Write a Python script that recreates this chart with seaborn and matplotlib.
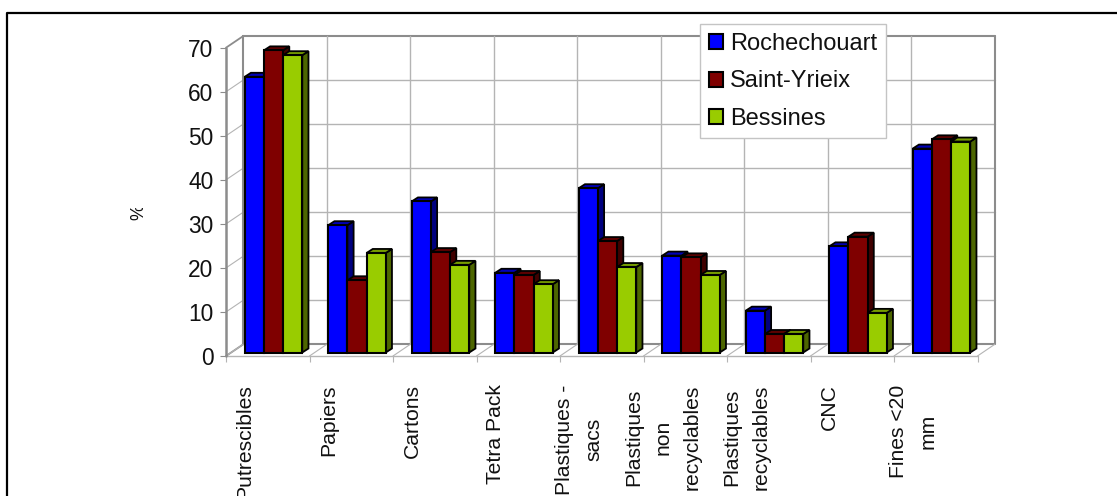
import matplotlib
matplotlib.use("Agg")
import matplotlib.pyplot as plt
import matplotlib.transforms as mtransforms
from matplotlib.lines import Line2D
from matplotlib.patches import Polygon
import numpy as np
import pandas as pd
import seaborn as sns

categories = ["Putrescibles", "Papiers", "Cartons", "Tetra Pack", "Plastiques -\nsacs",
              "Plastiques\nnon\nrecyclables", "Plastiques\nrecyclables", "CNC", "Fines <20\nmm"]
rochechouart = [62.6, 28.9, 34.3, 18.1, 37.3, 22.0, 9.5, 24.1, 46.3]
saint_yrieix = [68.6, 16.4, 22.8, 17.6, 25.3, 21.6, 4.2, 26.3, 48.4]
bessines = [67.5, 22.6, 19.9, 15.5, 19.4, 17.6, 4.2, 9.0, 47.9]
sites = ["Rochechouart", "Saint-Yrieix", "Bessines"]
y_ticks = [0, 10, 20, 30, 40, 50, 60, 70]

front_colors = ["#0000ff", "#7f0000", "#99cc00"]
top_colors = ["#0000b8", "#5c0000", "#769c00"]
side_colors = ["#00007f", "#400000", "#4d6600"]
WALL = "#8c8c8c"
GRID = "#b4b4b4"

W, H = 1117, 496
plt.rcParams["font.family"] = ["Liberation Sans", "DejaVu Sans"]
sns.set_theme(style="white", rc={"font.family": ["Liberation Sans", "DejaVu Sans"]})

frame = pd.DataFrame({
    "categorie": categories * 3,
    "site": np.repeat(sites, len(categories)),
    "valeur": rochechouart + saint_yrieix + bessines,
})

fig = plt.figure(figsize=(W / 100, H / 100), dpi=100, facecolor="white")
# Front plane of the pseudo-3D box, given in pixels from the top-left corner
left, right, y_zero, y_top = 226, 977.5, 356, 47.7
ax = fig.add_axes([left / W, 1 - y_zero / H, (right - left) / W, (y_zero - y_top) / H])
ax.patch.set_alpha(0)

sns.barplot(data=frame, x="categorie", y="valeur", hue="site", hue_order=sites,
            palette=front_colors, saturation=1, width=0.689, gap=0, dodge=True,
            edgecolor="black", linewidth=1.5, ax=ax, legend=True)
ax.set_xlim(-0.5, 8.5)
ax.set_ylim(0, 70)
ax.autoscale(False)

# Offsets in pixels: box depth, and bars standing part way into the box
back = mtransforms.offset_copy(ax.transData, fig, x=17.3, y=11.7, units="dots")
bars = mtransforms.offset_copy(ax.transData, fig, x=5.75, y=3.5, units="dots")
DEPTH_X, DEPTH_Y = 6.2, 4.0
depth = mtransforms.offset_copy(bars, fig, x=DEPTH_X, y=DEPTH_Y, units="dots")

# Back wall grid and side wall diagonals
x_edges = np.arange(-0.5, 9)
for v in y_ticks:
    ax.plot([-0.5, 8.5], [v, v], transform=back, color=GRID if 0 < v < 70 else WALL,
            lw=1.0 if 0 < v < 70 else 1.5, clip_on=False, zorder=1)
    p0 = ax.transData.transform((-0.5, v))
    ax.add_line(Line2D([p0[0], p0[0] + 17.3], [p0[1], p0[1] + 11.7], transform=None,
                       color=GRID if 0 < v < 70 else WALL, lw=0.8 if 0 < v < 70 else 1.3,
                       clip_on=False, zorder=1))
for k in x_edges:
    top_line = k == 8.5 or k == -0.5
    ax.plot([k, k], [0, 70], transform=back, color=WALL if top_line else GRID,
            lw=1.5 if top_line else 1.0, clip_on=False, zorder=1)
    p0 = ax.transData.transform((k, 0))
    ax.add_line(Line2D([p0[0], p0[0] + 17.3], [p0[1], p0[1] + 11.7], transform=None,
                       color=GRID, lw=0.8, clip_on=False, zorder=1))
ax.plot([-0.5, 8.5], [0, 0], color=GRID, lw=1.0, clip_on=False, zorder=1)
ax.plot([-0.5, -0.5], [0, 70], color=WALL, lw=1.8, clip_on=False, zorder=1)

# Bars get their side and top faces, drawn from the bars' own data extents
for h, container in enumerate(ax.containers):
    for patch in container:
        x0, w, v = patch.get_x(), patch.get_width(), patch.get_height()
        x1 = x0 + w
        a = bars.transform([(x1, 0), (x1, v), (x0, v)])
        b = depth.transform([(x1, 0), (x1, v), (x0, v)])
        side = Polygon([a[0], b[0], b[1], a[1]], closed=True, transform=None,
                       facecolor=side_colors[h], edgecolor="black", lw=1.3,
                       clip_on=False, zorder=3 + h)
        top = Polygon([a[2], a[1], b[1], b[2]], closed=True, transform=None,
                      facecolor=top_colors[h], edgecolor="black", lw=1.3,
                      clip_on=False, zorder=3 + h)
        ax.add_patch(side)
        ax.add_patch(top)
        patch.set_transform(bars)
        patch.set_clip_on(False)
        patch.set_zorder(3.2 + h)

# Axes ticks and labels
for s in ax.spines.values():
    s.set_visible(False)
ax.set_xlabel("")
ax.set_ylabel("")
ax.set_yticks(y_ticks)
ax.tick_params(axis="y", left=True, length=4, width=0.8, color=WALL, pad=5,
               labelsize=16.4, labelcolor="#111111")
ax.set_xticks(range(len(categories)))
ax.set_xticks(x_edges, minor=True)
ax.set_xticklabels(categories, rotation=90, ha="center", va="top", ma="center",
                   linespacing=1.68, fontsize=15.2, color="#111111")
ax.tick_params(axis="x", which="major", bottom=False, length=0, pad=20.4)
ax.tick_params(axis="x", which="minor", bottom=True, length=4, width=0.8, color=GRID)
shift = mtransforms.ScaledTranslation(-22.5 / 100, 0, fig.dpi_scale_trans)
for label in ax.get_xticklabels():
    label.set_transform(label.get_transform() + shift)

# Legend box over the back wall
handles, labels = ax.get_legend_handles_labels()
ax.get_legend().remove()
leg = ax.legend(handles, labels, loc="upper left",
                bbox_to_anchor=(700 / W, 1 - 24.3 / H), bbox_transform=fig.transFigure,
                fontsize=17.0, frameon=True, fancybox=False, framealpha=1,
                edgecolor="#c4c4c4", facecolor="white", borderaxespad=0, borderpad=0.36,
                labelspacing=0.66, handlelength=0.6, handleheight=0.6, handletextpad=0.32)
leg.get_frame().set_linewidth(1.0)
leg.set_zorder(20)
for t in leg.get_texts():
    t.set_color("#111111")

# Outer frame, open at the bottom and on the right
fig.add_artist(Line2D([7 / W, 7 / W, 1], [0, 1 - 13 / H, 1 - 13 / H], color="black", lw=1.6,
                      transform=fig.transFigure))

# Axis unit, cut off by the edge of its label box
unit = fig.text(139 / W, 1 - 212 / H, "%", rotation=90, ha="center", va="center",
                fontsize=13, color="#111111")
unit.set_clip_box(mtransforms.Bbox([[125, H - 224], [150, H - 208]]))
unit.set_clip_on(True)

fig.savefig("out.png", dpi=100, facecolor="white")
